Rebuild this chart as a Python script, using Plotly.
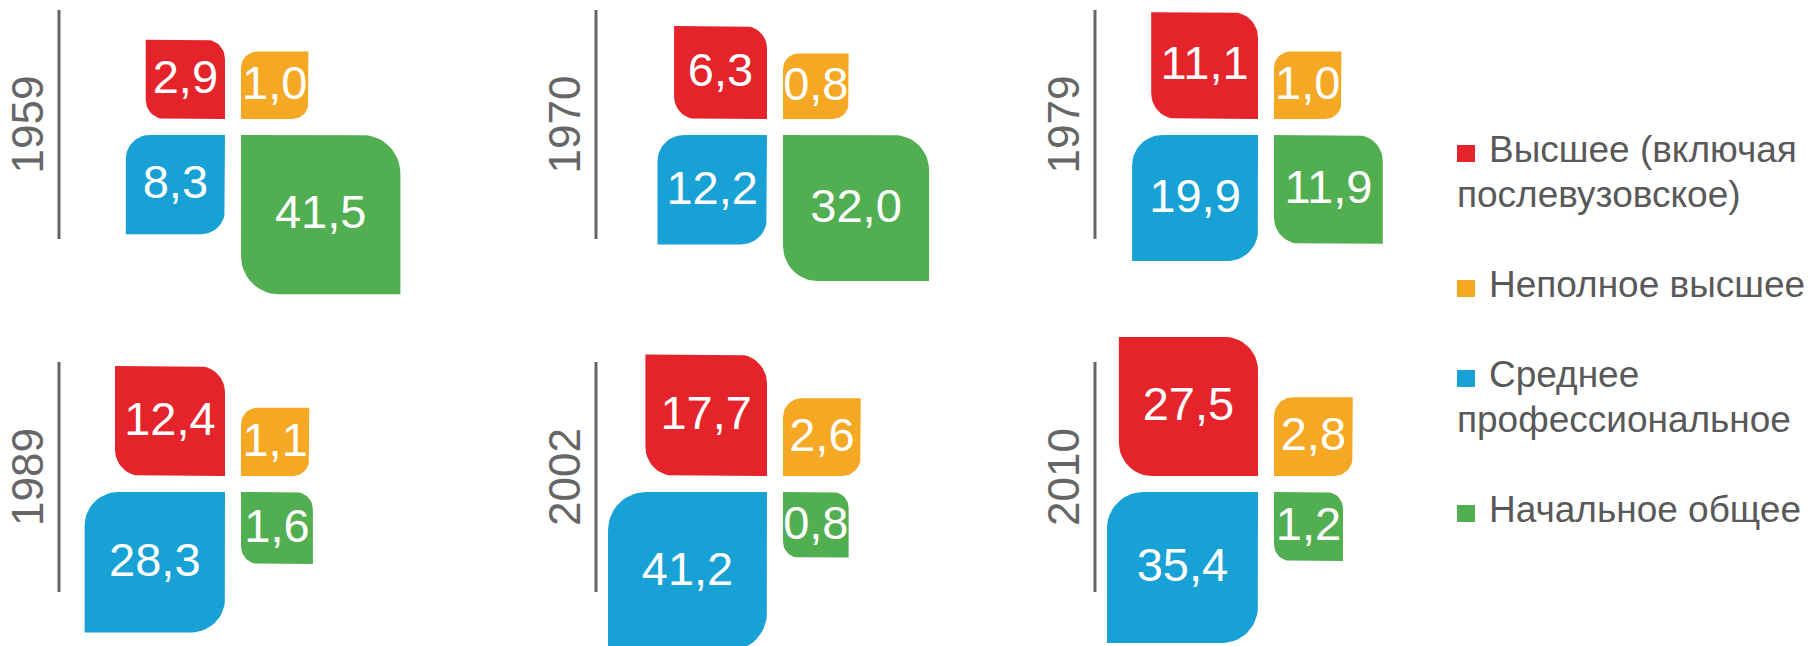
import math
import plotly.graph_objects as go

# Educational attainment by census year, per 1000 people
years = ["1959", "1970", "1979", "1989", "2002", "2010"]
categories = [
    "Высшее (включая\nпослевузовское)",
    "Неполное высшее",
    "Среднее\nпрофессиональное",
    "Начальное общее",
]
higher = [2.9, 6.3, 11.1, 12.4, 17.7, 27.5]
incomplete_higher = [1.0, 0.8, 1.0, 1.1, 2.6, 2.8]
secondary_vocational = [8.3, 12.2, 19.9, 28.3, 41.2, 35.4]
primary_general = [41.5, 32.0, 11.9, 1.6, 0.8, 1.2]
colors = ["#E5232A", "#F5A824", "#18A1D5", "#51AF52"]

series = [higher, incomplete_higher, secondary_vocational, primary_general]

W, H = 1810, 646
FONT = "Arial, Liberation Sans, sans-serif"
GRAY = "#666666"
LEGEND_GRAY = "#595959"

# panel grid (pixel space)
COL_LINE_X = [59, 596, 1095]
COL_CROSS_X = [233, 775, 1266]
ROW_CROSS_Y = [127, 484]
ROW_LINE = [(10, 239), (362, 592)]
GAP = 8


def side(v):
    # square edge grows with the square root of the value
    return 50.5 + 16.9 * math.sqrt(v)


def leaf(x0, y0, s, rounded):
    """Square with selected corners rounded, clockwise from top-left."""
    r = 0.24 * s
    n = 14
    corners = {
        "tl": ((x0, y0), (x0 + r, y0 + r), 180),
        "tr": ((x0 + s, y0), (x0 + s - r, y0 + r), 270),
        "br": ((x0 + s, y0 + s), (x0 + s - r, y0 + s - r), 0),
        "bl": ((x0, y0 + s), (x0 + r, y0 + s - r), 90),
    }
    xs, ys = [], []
    for key in ("tl", "tr", "br", "bl"):
        pt, c, a0 = corners[key]
        if key in rounded:
            for i in range(n + 1):
                a = math.radians(a0 + 90 * i / n)
                xs.append(c[0] + r * math.cos(a))
                ys.append(c[1] + r * math.sin(a))
        else:
            xs.append(pt[0])
            ys.append(pt[1])
    xs.append(xs[0])
    ys.append(ys[0])
    return xs, ys


ROUNDED = [("tr", "bl"), ("tl", "br"), ("tl", "br"), ("tr", "bl")]

fig = go.Figure()

label_x, label_y, label_t = [], [], []
for k, vals in enumerate(series):
    px, py = [], []
    for p, v in enumerate(vals):
        col, row = p % 3, p // 3
        cx, cy = COL_CROSS_X[col], ROW_CROSS_Y[row]
        s = side(v)
        x0 = cx - GAP - s if k in (0, 2) else cx + GAP
        y0 = cy - GAP - s if k in (0, 1) else cy + GAP
        xs, ys = leaf(x0, y0, s, ROUNDED[k])
        px += xs + [None]
        py += ys + [None]
        label_x.append(x0 + s / 2)
        label_y.append(y0 + s / 2 + 2)
        label_t.append(f"{v:.1f}".replace(".", ","))
    fig.add_trace(go.Scatter(
        x=px, y=py, mode="lines", fill="toself", fillcolor=colors[k],
        line=dict(width=0, color=colors[k]), hoverinfo="skip", showlegend=False,
    ))

fig.add_trace(go.Scatter(
    x=label_x, y=label_y, mode="text", text=label_t,
    textposition="middle center",
    textfont=dict(family=FONT, size=47, color="white"),
    hoverinfo="skip", showlegend=False,
))

shapes = []
annotations = []
for p, yr in enumerate(years):
    col, row = p % 3, p // 3
    lx = COL_LINE_X[col]
    y_top, y_bot = ROW_LINE[row]
    shapes.append(dict(type="line", xref="x", yref="y", x0=lx, x1=lx,
                       y0=y_top, y1=y_bot, line=dict(color=GRAY, width=3)))
    annotations.append(dict(
        x=lx - 32, y=(y_top + y_bot) / 2, xref="x", yref="y", text=yr,
        textangle=-90, showarrow=False, xanchor="center", yanchor="middle",
        font=dict(family=FONT, size=44, color=GRAY),
    ))

# legend
LEG_MARK_X = 1457
LEG_TEXT_X = 1487
LEG_WRAP_X = 1455
LINE_STEP = 45
baseline = 162
for k, name in enumerate(categories):
    lines = name.split("\n")
    shapes.append(dict(type="rect", xref="x", yref="y",
                       x0=LEG_MARK_X, x1=LEG_MARK_X + 18,
                       y0=baseline - 17, y1=baseline,
                       fillcolor=colors[k], line=dict(width=0)))
    for j, ln in enumerate(lines):
        annotations.append(dict(
            x=LEG_TEXT_X if j == 0 else LEG_WRAP_X,
            y=baseline + j * LINE_STEP - 13, xref="x", yref="y",
            text=ln, showarrow=False, xanchor="left", yanchor="middle",
            font=dict(family=FONT, size=37, color=LEGEND_GRAY),
        ))
    baseline += (len(lines) + 1) * LINE_STEP

fig.update_layout(
    width=W, height=H,
    margin=dict(l=0, r=0, t=0, b=0),
    paper_bgcolor="white", plot_bgcolor="white",
    xaxis=dict(range=[0, W], visible=False, fixedrange=True),
    yaxis=dict(range=[H, 0], visible=False, fixedrange=True),
    shapes=shapes, annotations=annotations,
    showlegend=False,
)

fig.write_html("out.html")
